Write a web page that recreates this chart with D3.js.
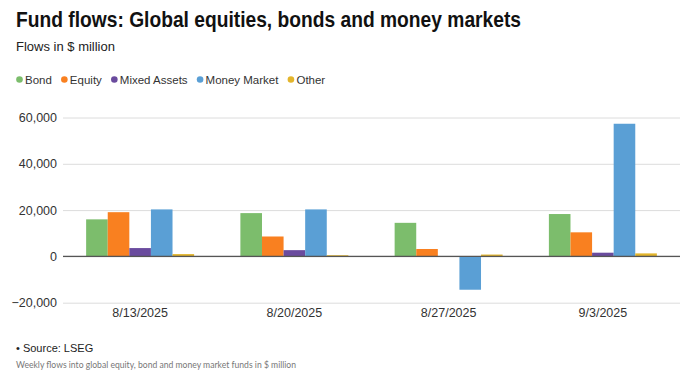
<!DOCTYPE html>
<html>
<head>
<meta charset="utf-8">
<script src="https://cdn.jsdelivr.net/npm/d3@7"></script>
<style>
  body { margin: 0; background: #fff; }
  svg { display: block; font-family: "Liberation Sans", Arial, sans-serif; }
</style>
</head>
<body>
<svg id="chart" width="692" height="379"></svg>
<script>
var dates = ['8/13/2025', '8/20/2025', '8/27/2025', '9/3/2025'];
var series = ['Bond', 'Equity', 'Mixed Assets', 'Money Market', 'Other'];
var colors = ['#7cbd6c', '#f98020', '#6a4b9e', '#5a9fd5', '#e3b52c'];
var bond = [16000, 18700, 14500, 18300];
var equity = [19100, 8600, 3200, 10400];
var mixed = [3600, 2700, -200, 1600];
var moneyMarket = [20300, 20300, -14400, 57300];
var other = [1000, 500, 800, 1300];
var yTicks = [-20000, 0, 20000, 40000, 60000];

var values = [bond, equity, mixed, moneyMarket, other];

var svg = d3.select('#chart');
var margin = {left: 63, right: 12, top: 117.5, bottom: 76};
var width = 692, height = 379;

// title block
svg.append('text')
    .attr('x', 16).attr('y', 27)
    .attr('font-size', 22).attr('font-weight', 'bold')
    .attr('fill', '#111')
    .attr('textLength', 505)
    .attr('lengthAdjust', 'spacingAndGlyphs')
    .text('Fund flows: Global equities, bonds and money markets');

svg.append('text')
    .attr('x', 16).attr('y', 51)
    .attr('font-size', 13).attr('fill', '#222')
    .text('Flows in $ million');

// legend
var lx = 16;
series.forEach(function(s, i){
    svg.append('circle')
        .attr('cx', lx + 3.5).attr('cy', 79.5).attr('r', 3.3)
        .attr('fill', colors[i]);
    var t = svg.append('text')
        .attr('x', lx + 9).attr('y', 83.5)
        .attr('font-size', 11.5).attr('fill', '#333')
        .text(s);
    lx = lx + 9 + t.node().getComputedTextLength() + 9;
});

var x = d3.scaleBand()
    .domain(dates)
    .range([margin.left, width - margin.right])
    .paddingInner(0.3)
    .paddingOuter(0.15);

var x1 = d3.scaleBand()
    .domain(series)
    .range([0, x.bandwidth()]);

var y = d3.scaleLinear()
    .domain([-20000, 60000])
    .range([302.7, margin.top]);

// gridlines
var yAxis = d3.axisLeft(y)
    .tickValues(yTicks)
    .tickSize(-(width - margin.right - margin.left))
    .tickFormat(d3.format(','));

var gy = svg.append('g')
    .attr('transform', 'translate(' + margin.left + ',0)')
    .call(yAxis);
gy.select('.domain').remove();
gy.selectAll('.tick line').attr('stroke', '#dcdcdc').attr('stroke-width', 1);
gy.selectAll('.tick text')
    .attr('x', -6)
    .attr('font-size', 12.5)
    .attr('fill', '#333')
    .attr('font-family', '"Liberation Sans", Arial, sans-serif')
    .text(function(d){ return d < 0 ? '\u2212' + d3.format(',')(-d) : d3.format(',')(d); });

// bars
var groups = svg.append('g').selectAll('g')
    .data(dates)
    .enter()
    .append('g')
    .attr('transform', function(d){ return 'translate(' + x(d) + ',0)'; });

groups.selectAll('rect')
    .data(function(d, di){
        return series.map(function(s, si){ return {s: s, i: si, v: values[si][di]}; });
    })
    .enter()
    .append('rect')
        .attr('x', function(d){ return x1(d.s); })
        .attr('width', x1.bandwidth())
        .attr('y', function(d){ return y(Math.max(0, d.v)); })
        .attr('height', function(d){ return Math.abs(y(d.v) - y(0)); })
        .attr('fill', function(d){ return colors[d.i]; });

// zero line
svg.append('line')
    .attr('x1', margin.left).attr('x2', width - margin.right)
    .attr('y1', y(0)).attr('y2', y(0))
    .attr('stroke', '#555').attr('stroke-width', 1.2);

// x labels
var xAxis = d3.axisBottom(x).tickSize(0);
var gx = svg.append('g')
    .attr('transform', 'translate(0,' + 305 + ')')
    .call(xAxis);
gx.select('.domain').remove();
gx.selectAll('.tick text')
    .attr('dy', '0.71em').attr('y', 3)
    .attr('font-size', 12.5).attr('fill', '#333')
    .attr('font-family', '"Liberation Sans", Arial, sans-serif');

// footer
svg.append('text')
    .attr('x', 16).attr('y', 352)
    .attr('font-size', 11).attr('fill', '#222')
    .text('\u2022 Source: LSEG');

svg.append('text')
    .attr('x', 16).attr('y', 368)
    .attr('font-size', 8.6).attr('fill', '#777')
    .attr('font-family', 'Lato, sans-serif')
    .text('Weekly flows into global equity, bond and money market funds in $ million');
</script>
</body>
</html>
